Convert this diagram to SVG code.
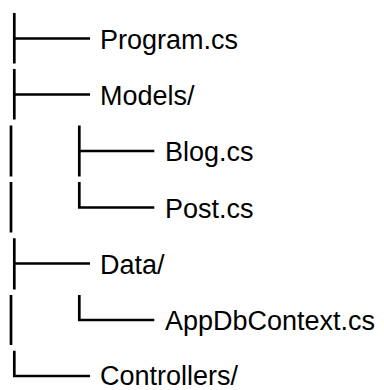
<svg xmlns="http://www.w3.org/2000/svg" width="384" height="390" viewBox="0 0 384 390">
  <style>
    .br { fill: none; stroke: #000; stroke-width: 2.7; stroke-linecap: butt; stroke-linejoin: miter; }
    .lbl { font-family: "Liberation Sans", Arial, sans-serif; font-size: 27px; fill: #000; }
  </style>
  <rect width="384" height="390" fill="#fff"/>

  <!-- tree branches: one vertical run per row, tees and elbows -->
  <g id="connectors" class="br">
    <!-- root column -->
    <path d="M14.3 13 V63.5 M14.3 38.5 H90"/>
    <path d="M14.3 69 V119.5 M14.3 94.5 H90"/>
    <path d="M11 125.5 V176.5"/>
    <path d="M11 182 V232.5"/>
    <path d="M14.3 238.3 V289.5 M14.3 263.5 H90"/>
    <path d="M11 295 V345"/>
    <path d="M14.3 350.7 V376 H90"/>
    <!-- Models/ children -->
    <path d="M79.3 125.5 V176.5 M79.3 151 H154.3"/>
    <path d="M79.3 182 V207.5 H154.3"/>
    <!-- Data/ child -->
    <path d="M79.3 295 V320 H154.3"/>
  </g>

  <g id="program-cs"><text class="lbl" x="100" y="48.5">Program.cs</text></g>
  <g id="models"><text class="lbl" x="100" y="104.5">Models/</text></g>
  <g id="blog-cs"><text class="lbl" x="165" y="161">Blog.cs</text></g>
  <g id="post-cs"><text class="lbl" x="165" y="217.5">Post.cs</text></g>
  <g id="data"><text class="lbl" x="100" y="273.5">Data/</text></g>
  <g id="appdbcontext-cs"><text class="lbl" x="165" y="330">AppDbContext.cs</text></g>
  <g id="controllers"><text class="lbl" x="100" y="384.5">Controllers/</text></g>
</svg>
